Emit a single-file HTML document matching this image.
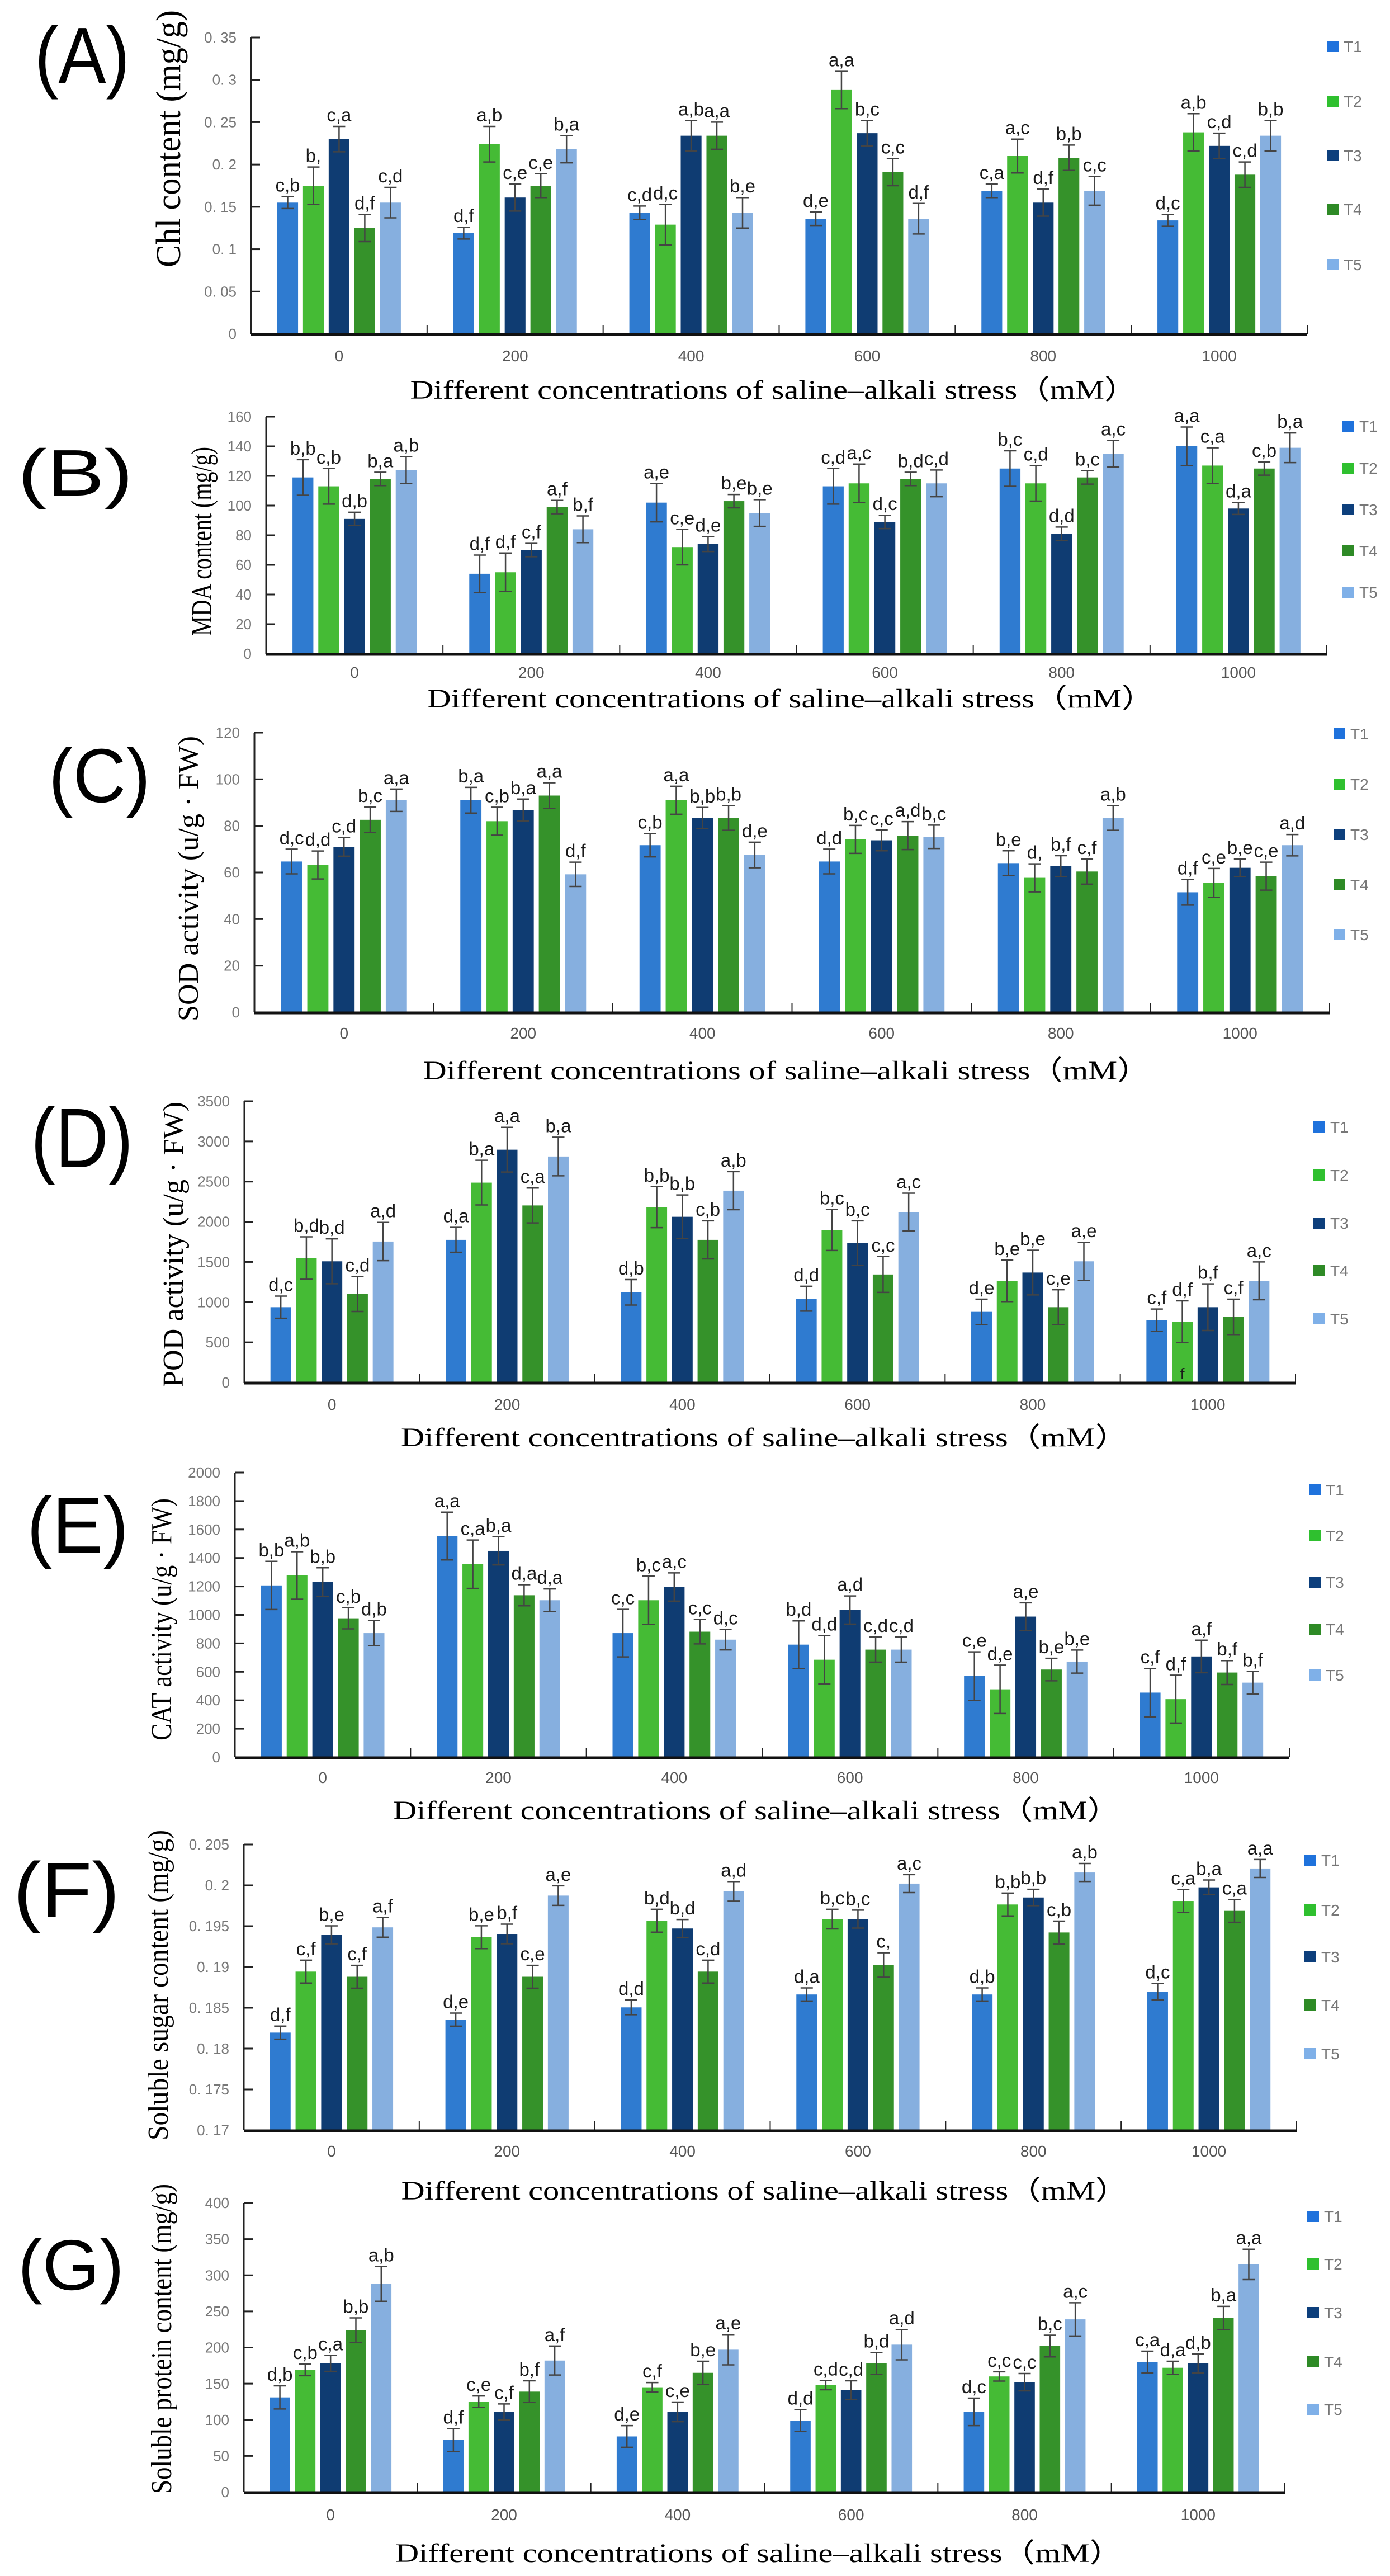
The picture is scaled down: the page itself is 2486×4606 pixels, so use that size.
<!DOCTYPE html>
<html><head><meta charset="utf-8"><title>Saline-alkali stress physiological indices</title>
<style>
html,body{margin:0;padding:0;background:#fff;}
svg{display:block;}
</style></head>
<body>
<svg id="fig" xmlns="http://www.w3.org/2000/svg" width="2486" height="4606" viewBox="0 0 2486 4606">
<rect x="0" y="0" width="2486" height="4606" fill="#fff"/>
</svg>
<script>
const categories=["0","200","400","600","800","1000"];
const seriesNames=["T1","T2","T3","T4","T5"];

const chlMean=[[.155,.175,.230,.125,.155],[.119,.224,.161,.175,.218],[.143,.129,.234,.234,.143],[.136,.288,.237,.191,.136],[.169,.210,.155,.208,.169],[.134,.238,.222,.188,.234]];
const chlErr=[[.007,.022,.015,.016,.018],[.007,.021,.016,.014,.016],[.008,.024,.018,.016,.018],[.008,.022,.015,.016,.018],[.008,.020,.016,.015,.017],[.007,.022,.015,.015,.018]];
const chlLab=[["c,b","b,","c,a","d,f","c,d"],["d,f","a,b","c,e","c,e","b,a"],["c,d","d,c","a,b","a,a","b,e"],["d,e","a,a","b,c","c,c","d,f"],["c,a","a,c","d,f","b,b","c,c"],["d,c","a,b","c,d","c,d","b,b"]];
const chlTicks=["0","0. 05","0. 1","0. 15","0. 2","0. 25","0. 3","0. 35"];

const mdaMean=[[119,113,91,118,124],[54,55,70,99,84],[102,72,74,103,95],[113,115,89,118,115],[125,115,81,119,135],[140,127,98,125,139]];
const mdaErr=[[12,12,4.5,4.5,9],[12.6,13,4.5,4.5,9],[13,12,5,4.5,9],[12,13,4.5,4.5,9],[12,12,4.5,4.5,9],[13,12,4,4.5,10]];
const mdaLab=[["b,b","c,b","d,b","b,a","a,b"],["d,f","d,f","c,f","a,f","b,f"],["a,e","c,e","d,e","b,e","b,e"],["c,d","a,c","d,c","b,d","c,d"],["b,c","c,d","d,d","b,c","a,c"],["a,a","c,a","d,a","c,b","b,a"]];
const mdaTicks=["0","20","40","60","80","100","120","140","160"];

const sodMean=[[64.7,63.2,71,82.6,91],[91,82,86.8,93,59.2],[71.7,91,83.4,83.4,67.5],[64.7,74.2,73.8,75.8,75.3],[64,57.7,62.7,60.4,83.4],[51.5,55.5,62,58.4,71.7]];
const sodErr=[[5.3,6,4,5.5,4.8],[5.5,6,4.7,5.5,5.2],[5,6,4.5,5.3,5.5],[5.3,6,4.5,6,5],[5.3,6,4.5,5.4,5.3],[5.5,6.2,3.8,6,4.6]];
const sodLab=[["d,c","d,d","c,d","b,c","a,a"],["b,a","c,b","b,a","a,a","d,f"],["c,b","a,a","b,b","b,b","d,e"],["d,d","b,c","c,c","a,d","b,c"],["b,e","d,","b,f","c,f","a,b"],["d,f","c,e","b,e","c,e","a,d"]];
const sodTicks=["0","20","40","60","80","100","120"];

const podMean=[[937,1549,1508,1101,1754],[1775,2487,2897,2203,2812],[1122,2182,2062,1775,2387],[1043,1898,1734,1344,2121],[879,1265,1368,937,1508],[776,756,937,817,1265]];
const podErr=[[138,264,279,217,238],[155,278,278,217,240],[158,255,272,237,237],[155,255,278,223,234],[158,258,278,217,237],[138,260,290,220,235]];
const podLab=[["d,c","b,d","b,d","c,d","a,d"],["d,a","b,a","a,a","c,a","b,a"],["d,b","b,b","b,b","c,b","a,b"],["d,d","b,c","b,c","c,c","a,c"],["d,e","b,e","b,e","c,e","a,e"],["c,f","d,f","b,f","c,f","a,c"]];
const podTicks=["0","500","1000","1500","2000","2500","3000","3500"];

const catMean=[[1207,1277,1230,976,872],[1554,1356,1450,1138,1103],[872,1103,1196,882,826],[791,685,1034,756,756],[570,477,988,616,672],[454,408,708,595,524]];
const catErr=[[169,167,101,74,88],[168,170,99,74,79],[167,169,99,86,72],[167,170,99,88,88],[170,170,97,79,81],[170,168,114,84,80]];
const catLab=[["b,b","a,b","b,b","c,b","d,b"],["a,a","c,a","b,a","d,a","d,a"],["c,c","b,c","a,c","c,c","d,c"],["b,d","d,d","a,d","c,d","c,d"],["c,e","d,e","a,e","b,e","b,e"],["c,f","d,f","a,f","b,f","b,f"]];
const catTicks=["0","200","400","600","800","1000","1200","1400","1600","1800","2000"];

const sugMean=[[.18196,.18943,.19393,.18880,.19485],[.18355,.19364,.19404,.18880,.19874],[.18505,.19566,.19471,.18943,.19926],[.18663,.19586,.19586,.19024,.20021],[.18663,.19765,.19851,.19422,.20157],[.18698,.19808,.19975,.19687,.20206]];
const sugErr=[[.0008,.0014,.0011,.0014,.0012],[.0008,.0014,.0012,.0014,.0012],[.0009,.0014,.0011,.0014,.0012],[.0008,.0012,.0011,.0015,.0011],[.0008,.0014,.0010,.0014,.0011],[.0010,.0014,.0009,.0014,.0011]];
const sugLab=[["d,f","c,f","b,e","c,f","a,f"],["d,e","b,e","b,f","c,e","a,e"],["d,d","b,d","b,d","c,d","a,d"],["d,a","b,c","b,c","c,","a,c"],["d,b","b,b","b,b","c,b","a,b"],["d,c","c,a","b,a","c,a","a,a"]];
const sugTicks=["0. 17","0. 175","0. 18","0. 185","0. 19","0. 195","0. 2","0. 205"];

const proMean=[[131,169,178,224,288],[72,125,111,139,182],[77,145,111,165,197],[99,148,141,178,204],[111,160,152,202,239],[180,172,178,241,315]];
const proErr=[[16,8,11,17,24],[16,8,11,15,20],[15,6.5,13.6,16,21],[15,6.4,13,15,21],[19,6.4,12,15,23],[15,9,13,16,21]];
const proLab=[["d,b","c,b","c,a","b,b","a,b"],["d,f","c,e","c,f","b,f","a,f"],["d,e","c,f","c,e","b,e","a,e"],["d,d","c,d","c,d","b,d","a,d"],["d,c","c,c","c,c","b,c","a,c"],["c,a","d,a","d,b","b,a","a,a"]];
const proTicks=["0","50","100","150","200","250","300","350","400"];

const barColors=["#2f7bd0","#45bb35","#0f3c72","#35922a","#86afdf"];
const legColors=["#1f72dc","#2fc02f","#0d3f7c","#2e8a26","#7fb0e8"];

const panels=[
 {id:"a",letter:"(A)",lx:[62,232],ly:[27,154],ytitle:"Chl content (mg/g)",ytx:304,yty:[18,478],x0:449,x1:2338,yb:597,yt:67,vmin:0,vmax:.35,ticks:chlTicks,mean:chlMean,err:chlErr,lab:chlLab,xl:636,xt:697,legx:2373,legy:[83,181,278,374,473]},
 {id:"b",letter:"(B)",lx:[32,238],ly:[787,892],ytitle:"MDA content (mg/g)",ytx:360,yty:[799,1137],x0:476,x1:2373,yb:1169,yt:745,vmin:0,vmax:160,ticks:mdaTicks,mean:mdaMean,err:mdaErr,lab:mdaLab,xl:1202,xt:1249,legx:2401,legy:[762,837,911,985,1059]},
 {id:"c",letter:"(C)",lx:[87,269],ly:[1318,1440],ytitle:"SOD activity (u/g · FW)",ytx:336,yty:[1316,1826],x0:455,x1:2378,yb:1810,yt:1310,vmin:0,vmax:120,ticks:sodTicks,mean:sodMean,err:sodErr,lab:sodLab,xl:1847,xt:1914,legx:2385,legy:[1312,1402,1492,1582,1671]},
 {id:"d",letter:"(D)",lx:[55,238],ly:[1958,2093],ytitle:"POD activity (u/g · FW)",ytx:309,yty:[1970,2480],x0:437,x1:2317,yb:2472,yt:1969,vmin:0,vmax:3500,ticks:podTicks,mean:podMean,err:podErr,lab:podLab,xl:2511,xt:2570,legx:2349,legy:[2015,2101,2187,2272,2358]},
 {id:"e",letter:"(E)",lx:[48,230],ly:[2656,2782],ytitle:"CAT activity (u/g · FW)",ytx:288,yty:[2679,3112],x0:420,x1:2306,yb:3142,yt:2633,vmin:0,vmax:2000,ticks:catTicks,mean:catMean,err:catErr,lab:catLab,xl:3178,xt:3237,legx:2341,legy:[2664,2746,2829,2913,2995]},
 {id:"f",letter:"(F)",lx:[24,214],ly:[3309,3434],ytitle:"Soluble sugar content (mg/g)",ytx:282,yty:[3272,3827],x0:436,x1:2319,yb:3809,yt:3298,vmin:.17,vmax:.205,ticks:sugTicks,mean:sugMean,err:sugErr,lab:sugLab,xl:3846,xt:3917,legx:2333,legy:[3326,3415,3499,3585,3672]},
 {id:"g",letter:"(G)",lx:[32,222],ly:[3986,4100],ytitle:"Soluble protein content (mg/g)",ytx:288,yty:[3905,4459],x0:436,x1:2298,yb:4456,yt:3939,vmin:0,vmax:400,ticks:proTicks,mean:proMean,err:proErr,lab:proLab,xl:4496,xt:4565,legx:2338,legy:[3963,4048,4135,4223,4308]}
];

const NS="http://www.w3.org/2000/svg";
const svg=document.getElementById("fig");
function mk(parent,tag,attrs,txt){
  const e=document.createElementNS(NS,tag);
  for(const k in attrs) e.setAttribute(k,attrs[k]);
  if(txt!==undefined) e.textContent=txt;
  parent.appendChild(e);
  return e;
}
const xTitleText="Different concentrations of saline\u2013alkali stress\uFF08mM\uFF09";

panels.forEach(p=>{
  const g=mk(svg,"g",{});
  
  
  const yScale=v=>p.yb-(v-p.vmin)/(p.vmax-p.vmin)*(p.yb-p.yt);
  const gw=(p.x1-p.x0)/categories.length;
  const xScale=i=>p.x0+(i+0.5)*gw;

  // panel letter
  const L=mk(g,"text",{x:(p.lx[0]+p.lx[1])/2,y:p.ly[1]-6,"text-anchor":"middle","font-family":"Liberation Sans, sans-serif","font-size":(p.ly[1]-p.ly[0])*1.12,textLength:p.lx[1]-p.lx[0],lengthAdjust:"spacingAndGlyphs",fill:"#000"},p.letter);
  
  

  // y title
  const cy=(p.yty[0]+p.yty[1])/2;
  const YT=mk(g,"text",{x:0,y:0,transform:"translate("+(p.ytx+18)+","+cy+") rotate(-90)","text-anchor":"middle","font-family":"Liberation Serif, serif","font-size":p.id==="a"?62:52,textLength:p.yty[1]-p.yty[0],lengthAdjust:"spacingAndGlyphs",fill:"#000"},p.ytitle);
  
  

  // y ticks
  const n=p.ticks.length;
  for(let k=0;k<n;k++){
    const v=p.vmin+(p.vmax-p.vmin)*k/(n-1);
    const y=yScale(v);
    const tk=mk(g,"line",{x1:p.x0,x2:p.x0+16,y1:y,y2:y,stroke:"#222","stroke-width":3});
    
    
    const tl=mk(g,"text",{x:p.x0-26,y:y+9,"text-anchor":"end","font-family":"Liberation Sans, sans-serif","font-size":26,fill:"#777"},p.ticks[k]);
    
    
  }

  // bars
  const pitch=gw*0.146, bw=gw*0.118;
  for(let i=0;i<categories.length;i++){
    for(let s=0;s<5;s++){
      const cx=xScale(i)+(s-2)*pitch;
      const m=p.mean[i][s], e=p.err[i][s];
      const yTop=yScale(m);
      const b=mk(g,"rect",{x:cx-bw/2,y:yTop,width:bw,height:p.yb-yTop,fill:barColors[s]});
      
      
      const ye1=yScale(m+e), ye2=yScale(m-e);
      const el=mk(g,"path",{d:"M"+cx+" "+ye1+"V"+ye2+"M"+(cx-11)+" "+ye1+"H"+(cx+11)+"M"+(cx-11)+" "+ye2+"H"+(cx+11),stroke:"#444","stroke-width":2.5,fill:"none"});
      
      
      const lt=mk(g,"text",{x:cx,y:ye1-9,"text-anchor":"middle","font-family":"Liberation Sans, sans-serif","font-size":33,fill:"#1a1a1a"},p.lab[i][s]);
      
      
    }
    const cl=mk(g,"text",{x:xScale(i),y:p.xl+10,"text-anchor":"middle","font-family":"Liberation Sans, sans-serif","font-size":28,fill:"#555"},categories[i]);
    
    
    const dv=mk(g,"line",{x1:p.x0+(i+1)*gw,x2:p.x0+(i+1)*gw,y1:p.yb,y2:p.yb-16,stroke:"#222","stroke-width":2});
    
    
  }
  if(p.id==="d"){
    const ex=mk(g,"text",{x:xScale(5)-pitch,y:p.yb-6,"text-anchor":"middle","font-family":"Liberation Sans, sans-serif","font-size":28,fill:"#1a1a1a"},"f");
    
    
  }

  // axes
  const ya=mk(g,"line",{x1:p.x0,x2:p.x0,y1:p.yt,y2:p.yb,stroke:"#222","stroke-width":3});
  
  
  const xa=mk(g,"line",{x1:p.x0,x2:p.x1,y1:p.yb+1,y2:p.yb+1,stroke:"#111","stroke-width":5});
  
  

  // x title
  const xt=mk(g,"text",{x:(p.x0+p.x1)/2-10,y:p.xt+16,"text-anchor":"middle","font-family":"Liberation Serif, serif","font-size":48,textLength:1300,lengthAdjust:"spacingAndGlyphs",fill:"#000"},xTitleText);
  
  

  // legend
  for(let s=0;s<5;s++){
    const lg=mk(g,"g",{});
    
    
    const r=mk(lg,"rect",{x:p.legx,y:p.legy[s]-10,width:21,height:20,fill:legColors[s]});
    
    
    const t=mk(lg,"text",{x:p.legx+30,y:p.legy[s]+10,"font-family":"Liberation Sans, sans-serif","font-size":28,fill:"#777"},seriesNames[s]);
    
    
  }
});
</script>
</body></html>
